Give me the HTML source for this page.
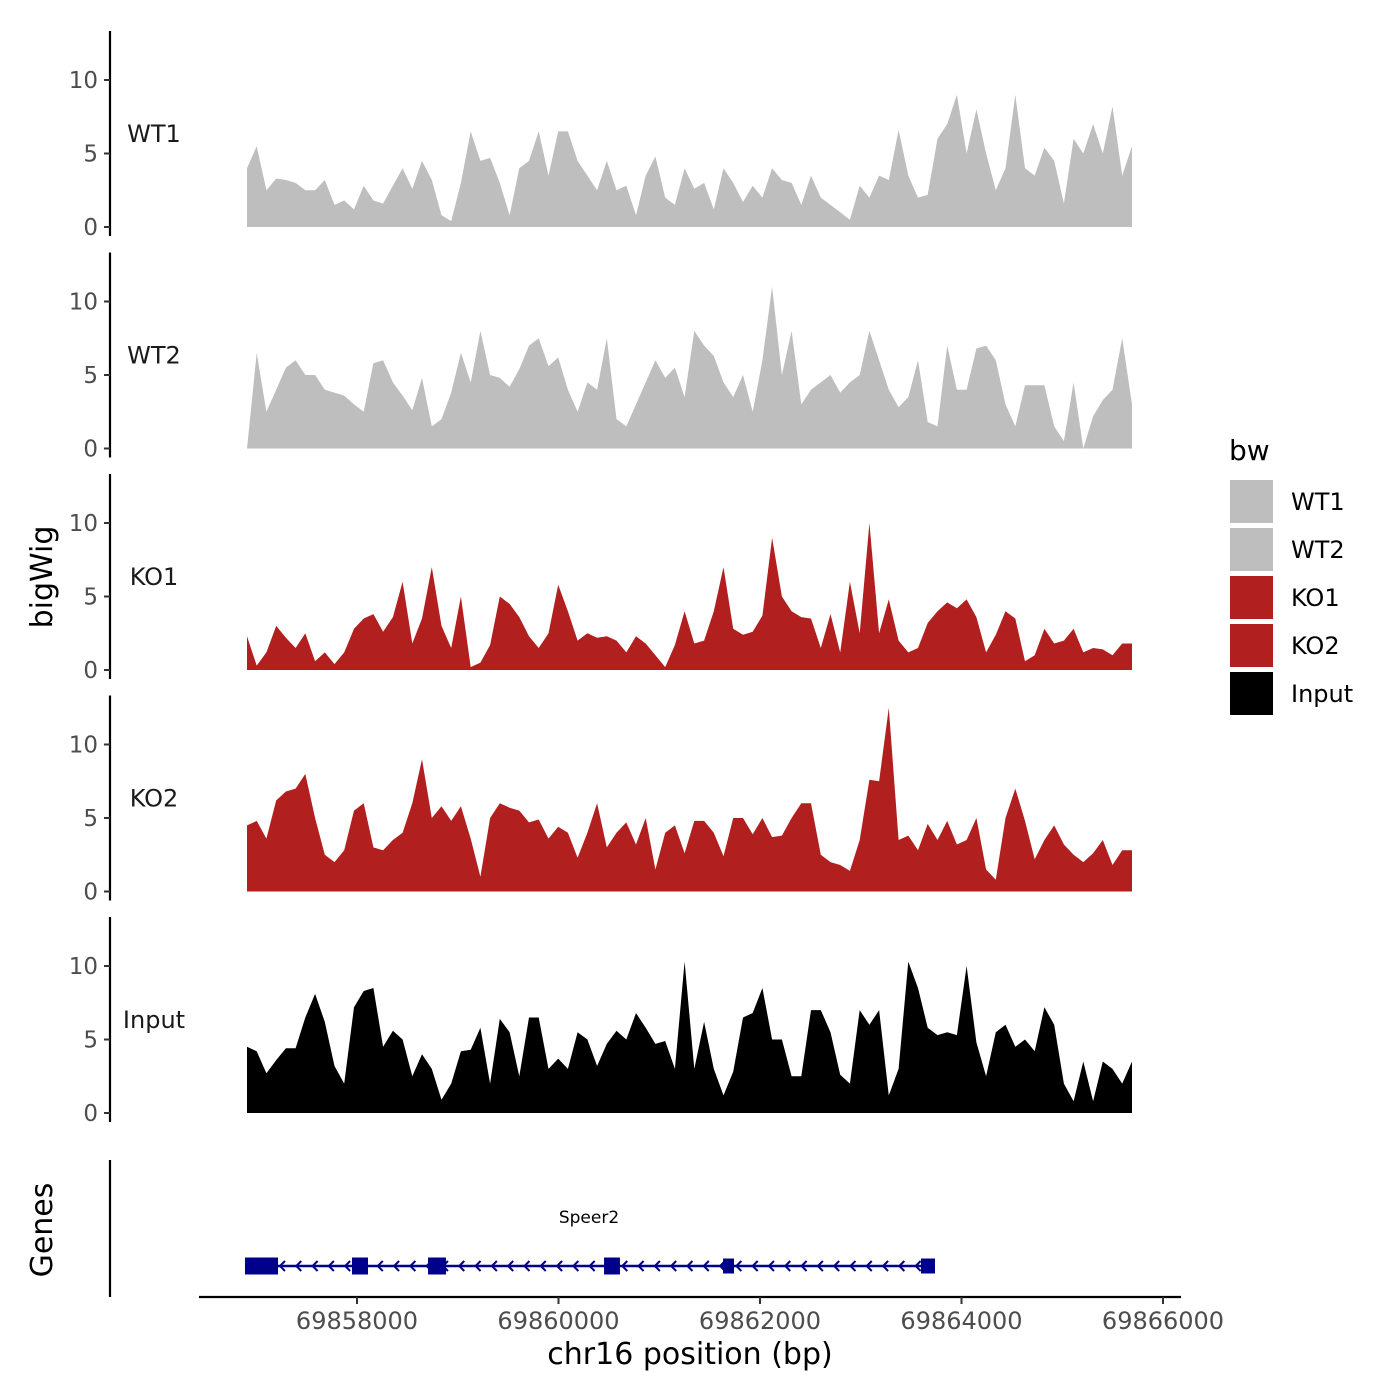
<!DOCTYPE html>
<html><head><meta charset="utf-8"><style>
body{margin:0;background:#fff}
svg{display:block;font-family:"DejaVu Sans","Liberation Sans",sans-serif}
</style></head><body>
<svg id="chart" width="1400" height="1400" viewBox="0 0 1400 1400" xmlns="http://www.w3.org/2000/svg">
<g id="tracks"></g>
<g id="genes"></g>
<g id="xaxis"></g>
<text x="0" y="0" transform="translate(52,577) rotate(-90)" text-anchor="middle" font-size="30" fill="#000">bigWig</text>
<text x="0" y="0" transform="translate(52,1230) rotate(-90)" text-anchor="middle" font-size="30" fill="#000">Genes</text>
<text x="690" y="1364" text-anchor="middle" font-size="30" fill="#000">chr16 position (bp)</text>
<g id="legend">
<text x="1229" y="460" font-size="28">bw</text>
</g>
</svg>
<script>
const trackNames = ["WT1","WT2","KO1","KO2","Input"];
const trackColors = ["#bebebe","#bebebe","#b21f1f","#b21f1f","#000000"];
const binStart = 69856908;
const binEnd = 69865692;
const wt1 = [4,5.5,2.5,3.3,3.2,3,2.5,2.5,3.2,1.5,1.8,1.2,2.8,1.8,1.6,2.8,4,2.6,4.5,3.2,0.8,0.4,3,6.5,4.5,4.7,3,0.8,4,4.5,6.5,3.5,6.5,6.5,4.5,3.5,2.5,4.5,2.5,2.8,0.8,3.5,4.8,2,1.5,4,2.6,3,1.2,4,3,1.7,2.8,2,4,3.2,3,1.5,3.5,2,1.5,1,0.5,2.8,2,3.5,3.2,6.6,3.5,2,2.2,6,7,9,5,8,5,2.5,4,9,4,3.5,5.4,4.5,1.6,6,5,7,5,8.2,3.5,5.5];
const wt2 = [0,6.5,2.5,4,5.5,6,5,5,4,3.8,3.6,3,2.5,5.8,6,4.5,3.6,2.6,4.8,1.5,2,3.8,6.5,4.5,8,5,4.8,4.2,5.4,7,7.5,5.6,6.2,4,2.5,4.5,4,7.5,2,1.5,3,4.5,6,4.8,5.5,3.5,8,7,6.3,4.5,3.5,5,2.5,6,11,5,8,3,4,4.5,5,3.8,4.5,5,8,6,4,2.8,3.5,6,1.8,1.5,7,4,4,6.8,7,6,3,1.5,4.3,4.3,4.3,1.5,0.5,4.5,0,2.2,3.3,4,7.5,3];
const ko1 = [2.3,0.3,1.2,3,2.2,1.5,2.5,0.6,1.2,0.4,1.2,2.8,3.5,3.8,2.6,3.6,6,1.8,3.5,7,3,1.5,5,0.2,0.5,1.7,5,4.5,3.6,2.3,1.5,2.5,5.8,4,2,2.5,2.2,2.3,2,1.2,2.3,1.8,1,0.2,1.7,4,1.8,2,4,7,2.8,2.4,2.6,3.7,9,5,4,3.6,3.5,1.5,3.8,1.2,6,2.5,10,2.5,4.8,2,1.2,1.5,3.2,4,4.6,4.2,4.8,3.6,1.2,2.4,4,3.5,0.6,1,2.8,1.8,2,2.8,1.2,1.5,1.4,1,1.8,1.8];
const ko2 = [4.5,4.8,3.6,6.2,6.8,7,8,5,2.5,2,2.8,5.5,6,3,2.8,3.5,4,6,9,5,5.8,4.8,5.8,3.6,1,5,6,5.7,5.5,4.7,4.9,3.6,4.4,4,2.3,4,6,3,4,4.7,3.2,5,1.5,4,4.5,2.6,4.8,4.8,4,2.4,5,5,3.9,5,3.7,3.8,5,6,6,2.5,2,1.8,1.4,3.5,7.6,7.5,12.5,3.5,3.8,2.8,4.6,3.5,4.8,3.2,3.5,5,1.5,0.8,5,7,4.8,2.2,3.5,4.5,3.2,2.5,2,2.6,3.5,1.8,2.8,2.8];
const input = [4.5,4.2,2.7,3.6,4.4,4.4,6.5,8.1,6.2,3.2,2,7.2,8.3,8.5,4.5,5.6,5,2.5,4,3,0.9,2,4.2,4.3,5.8,2,6.4,5.5,2.5,6.5,6.5,3,3.7,3,5.5,5,3.2,4.7,5.6,5,6.8,5.8,4.7,4.9,3,10.3,3,6.2,3,1.2,2.8,6.5,6.8,8.5,5,5,2.5,2.5,7,7,5.5,2.6,2,7,6,7,1.2,3,10.3,8.5,5.8,5.3,5.5,5.3,10,4.8,2.5,5.5,6,4.5,5,4.2,7.2,6,2,0.8,3.5,0.8,3.5,3,2,3.5];
const trackValues = [wt1, wt2, ko1, ko2, input];
const yTicks = [0,5,10];
const xTicks = [69858000,69860000,69862000,69864000,69866000];
const xTickLabels = ["69858000","69860000","69862000","69864000","69866000"];
const geneName = "Speer2";
const geneStart = 69856888;
const geneEnd = 69863700;
const exonStarts = [69856888,69857950,69858705,69860452,69861633,69863598];
const exonEnds = [69857216,69858109,69858883,69860610,69861742,69863737];
const exonTall = [1,1,1,1,0,0];

const NS="http://www.w3.org/2000/svg";
function mk(t,a,p){const e=document.createElementNS(NS,t);for(const k in a)e.setAttribute(k,a[k]);p.appendChild(e);return e;}
const xs = v => 357 + (v-69858000)*0.10075;
const panelZero = i => 227 + i*221.5;
const ys = (i,v) => panelZero(i) - v*14.7;

const tracks=document.getElementById('tracks');
trackNames.forEach((nm,i)=>{
  const g=mk('g',{},tracks);
  
  
  const z=panelZero(i);
  const ax=mk('line',{x1:110,x2:110,y1:z-196,y2:z+9,stroke:'#000','stroke-width':2.2},g);
  
  
  yTicks.forEach(t=>{
    const y=ys(i,t);
    const tk=mk('line',{x1:104,x2:110,y1:y,y2:y,stroke:'#333','stroke-width':2},g);
    
    
    const tl=mk('text',{x:98,y:y+8,'text-anchor':'end','font-size':23,fill:'#4d4d4d'},g);
    tl.textContent=t;
    
    
  });
  const vals=trackValues[i];
  const n=vals.length;
  const step=(binEnd-binStart)/(n-1);
  let pts=[[xs(binStart),z]];
  vals.forEach((v,j)=>pts.push([xs(binStart+j*step),ys(i,v)]));
  pts.push([xs(binEnd),z]);
  const area=mk('polygon',{points:pts.map(p=>p[0].toFixed(1)+','+p[1].toFixed(1)).join(' '),fill:trackColors[i]},g);
  
  
  const lb=mk('text',{x:154,y:z-85,'text-anchor':'middle','font-size':24,fill:'#1a1a1a'},g);
  lb.textContent=nm;
  
  
});

const genes=document.getElementById('genes');
const gax=mk('line',{x1:110,x2:110,y1:1160,y2:1297,stroke:'#000','stroke-width':2.2},genes);


const gy=1266;
const gl=mk('line',{x1:xs(geneStart),x2:xs(geneEnd),y1:gy,y2:gy,stroke:'#00008b','stroke-width':2.5},genes);


for(let x=xs(geneStart)+35;x<xs(geneEnd)-8;x+=16.3){
  const ch=mk('polyline',{points:`${x+5},${gy-5} ${x},${gy} ${x+5},${gy+5}`,fill:'none',stroke:'#00008b','stroke-width':2},genes);
  
  
}
exonStarts.forEach((s,k)=>{
  const h=exonTall[k]?17:15;
  const r=mk('rect',{x:xs(s),y:gy-h/2,width:xs(exonEnds[k])-xs(s),height:h,fill:'#00008b'},genes);
  
  
});
const gn=mk('text',{x:589,y:1223,'text-anchor':'middle','font-size':17,fill:'#000'},genes);
gn.textContent=geneName;



const xa=document.getElementById('xaxis');
const xl=mk('line',{x1:199,x2:1181,y1:1297,y2:1297,stroke:'#000','stroke-width':2.2},xa);


xTicks.forEach((t,k)=>{
  const x=xs(t);
  const tk=mk('line',{x1:x,x2:x,y1:1297,y2:1304,stroke:'#333','stroke-width':2},xa);
  
  
  const tl=mk('text',{x:x,y:1329,'text-anchor':'middle','font-size':24,fill:'#4d4d4d'},xa);
  tl.textContent=xTickLabels[k];
  
  
});

const lg=document.getElementById('legend');
trackNames.forEach((nm,i)=>{
  const y=480+i*48;
  const r=mk('rect',{x:1230,y:y,width:43,height:43,fill:trackColors[i]},lg);
  
  
  const t=mk('text',{x:1291,y:y+30,'font-size':24,fill:'#000'},lg);
  t.textContent=nm;
  
  
});
</script>
</body></html>
